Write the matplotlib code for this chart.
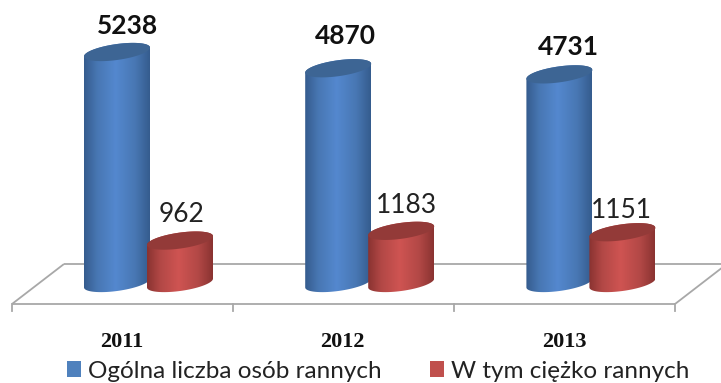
import numpy as np
import matplotlib
matplotlib.use("Agg")
import matplotlib.pyplot as plt
from matplotlib.colors import LinearSegmentedColormap
from matplotlib.patches import Polygon, Patch

years = ["2011", "2012", "2013"]
total_injured = [5238, 4870, 4731]
seriously_injured = [962, 1183, 1151]
series_names = ["Ogólna liczba osób rannych", "W tym ciężko rannych"]

W, H = 721, 383
PX_PER_GROUP = 221.2
PX_PER_UNIT = 0.0441
X0_PX, Y0_PX = 148.5, 283.0

fig = plt.figure(figsize=(W / 100, H / 100), dpi=100, facecolor="white")
ax = fig.add_axes([0, 0, 1, 1])
xlim = (-X0_PX / PX_PER_GROUP, (W - X0_PX) / PX_PER_GROUP)
ylim = ((Y0_PX - H) / PX_PER_UNIT, Y0_PX / PX_PER_UNIT)
ax.set_axis_off()

dx = 1 / PX_PER_GROUP      # one pixel in x data units
dy = 1 / PX_PER_UNIT       # one pixel in y data units


def px(x_px, y_px):
    return (x_px - X0_PX) * dx, (Y0_PX - y_px) * dy


# floor of the 3D chart
GREY = "#a8a8a8"
floor = [[(12, 304), (675, 304)], [(12, 304), (64, 264)], [(64, 264), (721, 264)],
         [(675, 304), (723, 267)]]
for a, b in floor:
    (x1, y1), (x2, y2) = px(*a), px(*b)
    ax.plot([x1, x2], [y1, y2], color=GREY, lw=1.3, solid_capstyle="butt", zorder=1)
for tx in np.arange(4):
    x1, y1 = px(12 + tx * 221, 304)
    x2, y2 = px(12 + tx * 221, 311)
    ax.plot([x1, x2], [y1, y2], color=GREY, lw=1.3, zorder=1)


def cylinder(cx, value, edge, shade, mid, top, z):
    a, b, s = 33 * dx, 8.0 * dy, 4.4 * dy
    t = np.linspace(0, np.pi, 60)
    # lower rim of the base (right to left), then upper rim of the top (left to right)
    bx = cx + a * np.cos(t)
    by = -b * np.sin(t) + s * np.cos(t)
    ux = cx - a * np.cos(t)
    uy = value - s * np.cos(t) + b * np.sin(t)
    body = np.column_stack([np.r_[bx, ux], np.r_[by, uy]])
    clip = Polygon(body, closed=True, transform=ax.transData, fc="none", ec="none")
    ax.add_patch(clip)
    cmap = LinearSegmentedColormap.from_list(
        "c", [(0, edge), (0.2, shade), (0.48, mid), (0.78, shade), (1, edge)])
    im = ax.imshow(np.linspace(0, 1, 128)[None, :], cmap=cmap, aspect="auto",
                   extent=(cx - a, cx + a, -20 * dy, value + 20 * dy), zorder=z)
    im.set_clip_path(clip)
    tt = np.linspace(0, 2 * np.pi, 120)
    ax.add_patch(Polygon(np.column_stack([cx + a * np.cos(tt),
                                          value + s * np.cos(tt) + b * np.sin(tt)]),
                         closed=True, fc=top, ec="none", zorder=z + 0.1))


BLUE = ("#355c8e", "#4877b3", "#5488cf", "#3d6594")
RED = ("#8a3331", "#b24846", "#cf5452", "#933a38")
OFFSET = 31.5 * dx
for i in range(len(years)):
    cylinder(i - OFFSET, total_injured[i], *BLUE, z=2 + i)
    cylinder(i + OFFSET, seriously_injured[i], *RED, z=2.5 + i)

# data labels
label_font = ["Lato", "DejaVu Sans"]
blue_shift = [(10, 26), (7, 32), (9, 27)]
red_shift = [(2, 26), (5, 25), (-1, 22)]
for i in range(len(years)):
    ax.text(i - OFFSET + blue_shift[i][0] * dx, total_injured[i] + blue_shift[i][1] * dy,
            str(total_injured[i]), ha="center", va="center", fontsize=19,
            fontweight="bold", color="#111111", family=label_font, zorder=10)
    ax.text(i + OFFSET + red_shift[i][0] * dx, seriously_injured[i] + red_shift[i][1] * dy,
            str(seriously_injured[i]), ha="center", va="center", fontsize=19,
            color="#222222", family=label_font, zorder=10)

# category labels
for i, y in enumerate(years):
    ax.text(i - 27 * dx, px(0, 342)[1], y, ha="center", va="center", fontsize=16,
            fontweight="bold", family="Liberation Serif", color="#111111", zorder=10)

ax.set_xlim(*xlim)
ax.set_ylim(*ylim)

handles = [Patch(fc="#4f81bd", ec="none"), Patch(fc="#c0504d", ec="none")]
ax.legend(handles, series_names, loc="center", bbox_to_anchor=(378 / W, 1 - 371 / H),
          ncol=2, frameon=False, prop={"family": "Lato", "size": 17.5},
          handlelength=0.58, handleheight=0.62, handletextpad=0.29, columnspacing=2.0,
          labelcolor="#222222", borderpad=0, borderaxespad=0)

fig.savefig("out.png", dpi=100, facecolor="white")
